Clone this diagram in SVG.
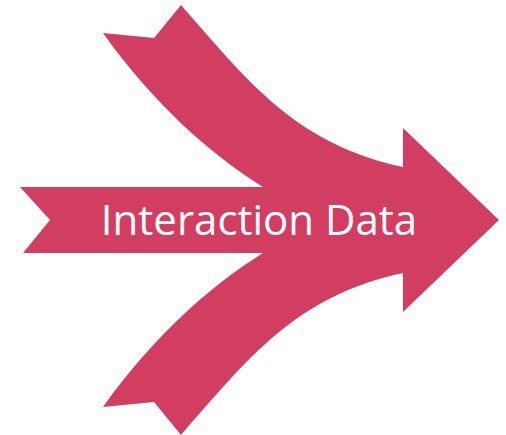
<svg xmlns="http://www.w3.org/2000/svg" width="506" height="435" viewBox="0 0 506 435">
<style>
.shape{fill:#D23E62;stroke:none}
.lbl{font-family:"Open Sans","DejaVu Sans",sans-serif;font-size:42px;fill:#FFFFFF;text-anchor:middle}
</style>
<g id="merge-arrow">
<path class="shape" d="M499,220 L403,312 L403,273 C295,296 247,360 181,435 L154,402 L103,407 C155,334 212,285 263,253 L23,253 L50,220 L20,187 L263,187 C212,155 155,106 103,33 L154,38 L181,5 C247,80 295,144 403,167 L403,128 Z"/>
<text class="lbl" x="259" y="235">Interaction Data</text>
</g>
</svg>
